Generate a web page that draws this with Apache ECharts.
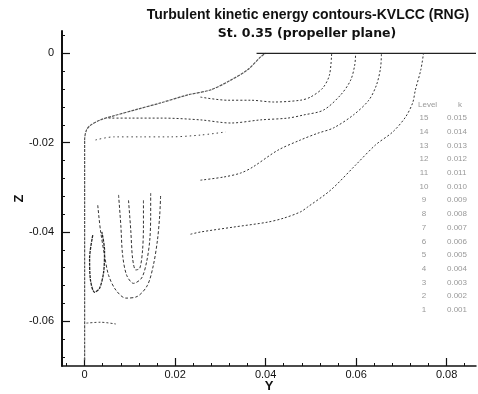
<!DOCTYPE html>
<html>
<head>
<meta charset="utf-8">
<script src="https://cdn.jsdelivr.net/npm/echarts@6/dist/echarts.min.js"></script>
<style>html,body{margin:0;padding:0;background:#fff}#c{width:478px;height:394px}</style>
</head>
<body>
<div id="c"></div>
<script>
// ---- data (Y, Z) ----
var titleText = 'Turbulent kinetic energy contours-KVLCC (RNG)';
var subtitleText = 'St. 0.35 (propeller plane)';
var xTickValues = [0, 0.02, 0.04, 0.06, 0.08];
var xTickLabels = ['0', '0.02', '0.04', '0.06', '0.08'];
var xMinorTicks = [-0.004, 0.004, 0.008, 0.012, 0.016, 0.024, 0.028, 0.032, 0.036, 0.044, 0.048, 0.052, 0.056, 0.064, 0.068, 0.072, 0.076, 0.084];
var yTickValues = [0, -0.02, -0.04, -0.06];
var yTickLabels = ['0', '-0.02', '-0.04', '-0.06'];
var yMinorTicks = [0.004, -0.004, -0.008, -0.012, -0.016, -0.024, -0.028, -0.032, -0.036, -0.044, -0.048, -0.052, -0.056, -0.064, -0.068];
var legendHeader = ['Level', 'k'];
var legendLevels = ['15', '14', '13', '12', '11', '10', '9', '8', '7', '6', '5', '4', '3', '2', '1'];
var legendValues = ['0.015', '0.014', '0.013', '0.012', '0.011', '0.010', '0.009', '0.008', '0.007', '0.006', '0.005', '0.004', '0.003', '0.002', '0.001'];

var hullLine = [[0,-0.0687],[0,-0.0194],[0.0004,-0.0172],[0.0013,-0.0161],[0.0035,-0.0149],[0.0064,-0.0140],[0.0117,-0.0125],[0.0168,-0.0111],[0.0228,-0.0093],[0.0278,-0.0082],[0.0323,-0.0060],[0.0360,-0.0037],[0.0389,-0.0008],[0.0400,0]];
var surfaceLine = [[0.0380,0],[0.0865,0]];
var contour1 = [[0.0256,-0.0098],[0.0316,-0.0105],[0.0367,-0.0105],[0.0418,-0.0109],[0.0477,-0.0105],[0.0499,-0.0098],[0.0526,-0.0078],[0.0541,-0.0049],[0.0546,0]];
var contour2 = [[0.0053,-0.0145],[0.0102,-0.0145],[0.0172,-0.0145],[0.0256,-0.0149],[0.0323,-0.0156],[0.0389,-0.0149],[0.0449,-0.0145],[0.0484,-0.0138],[0.0528,-0.0127],[0.0566,-0.0093],[0.0588,-0.0060],[0.0597,-0.0026],[0.0599,0]];
var contour3 = [[0.0024,-0.0194],[0.0064,-0.0187],[0.0124,-0.0187],[0.0190,-0.0187],[0.0256,-0.0183],[0.0312,-0.0176]];
var contour4 = [[0.0256,-0.0284],[0.0307,-0.0277],[0.0345,-0.0268],[0.0371,-0.0255],[0.0427,-0.0217],[0.0477,-0.0194],[0.0515,-0.0179],[0.0550,-0.0167],[0.0594,-0.0138],[0.0628,-0.0105],[0.0645,-0.0071],[0.0654,-0.0033],[0.0656,0]];
var contour5 = [[0.0234,-0.0405],[0.0256,-0.0400],[0.0329,-0.0389],[0.0404,-0.0378],[0.0440,-0.0369],[0.0477,-0.0355],[0.0493,-0.0344],[0.0544,-0.0306],[0.0599,-0.0250],[0.0643,-0.0205],[0.0681,-0.0176],[0.0709,-0.0143],[0.0725,-0.0111],[0.0731,-0.0082],[0.0743,-0.0037],[0.0749,0]];
var wake1 = [[0.0029,-0.0340],[0.0035,-0.0396],[0.0044,-0.0452],[0.0053,-0.0497],[0.0069,-0.0530],[0.0091,-0.0548],[0.0117,-0.0544],[0.0139,-0.0519],[0.0152,-0.0474],[0.0161,-0.0418],[0.0166,-0.0362],[0.0168,-0.0317]];
var wake2 = [[0.0075,-0.0317],[0.0080,-0.0385],[0.0084,-0.0452],[0.0093,-0.0497],[0.0108,-0.0515],[0.0126,-0.0503],[0.0137,-0.0467],[0.0144,-0.0418],[0.0146,-0.0362],[0.0146,-0.0313]];
var wake3 = [[0.0097,-0.0329],[0.0102,-0.0396],[0.0106,-0.0459],[0.0113,-0.0485],[0.0122,-0.0481],[0.0128,-0.0441],[0.0130,-0.0385],[0.0130,-0.0329]];
var wake4 = [[0.0018,-0.0407],[0.0011,-0.0459],[0.0013,-0.0508],[0.0022,-0.0535],[0.0033,-0.0526],[0.0042,-0.0490],[0.0044,-0.0441],[0.0038,-0.0400]];
var bottomSeg = [[0.0004,-0.0604],[0.0035,-0.0602],[0.0069,-0.0606]];

// ---- chart ----
var chart = echarts.init(document.getElementById('c'), null, {renderer: 'canvas'});
var FONT = 'Liberation Sans, Arial, sans-serif';

function contourSeries(name, data, color, width, dash) {
  return {
    name: name, type: 'line', data: data, xAxisIndex: 0, yAxisIndex: 0,
    showSymbol: false, symbol: 'none', silent: true, smooth: 0.3,
    lineStyle: {color: color, width: width, type: dash}
  };
}

var graphics = [
  {type: 'text', x: 308, y: 15, style: {text: titleText, font: 'bold 14px ' + FONT, fill: '#111', align: 'center', verticalAlign: 'middle'}},
  {type: 'text', x: 307, y: 34, style: {text: subtitleText, font: 'bold 12.5px "DejaVu Sans", sans-serif', fill: '#111', align: 'center', verticalAlign: 'middle'}},
  {type: 'text', x: 418, y: 105, style: {text: legendHeader[0], font: '8px ' + FONT, fill: '#999', align: 'left', verticalAlign: 'middle'}},
  {type: 'text', x: 458, y: 105, style: {text: legendHeader[1], font: '8px ' + FONT, fill: '#999', align: 'left', verticalAlign: 'middle'}}
];
for (var i = 0; i < legendLevels.length; i++) {
  var yy = 118 + i * 13.7;
  graphics.push({type: 'text', x: 424, y: yy, style: {text: legendLevels[i], font: '8px ' + FONT, fill: '#999', align: 'center', verticalAlign: 'middle'}});
  graphics.push({type: 'text', x: 447, y: yy, style: {text: legendValues[i], font: '8px ' + FONT, fill: '#999', align: 'left', verticalAlign: 'middle'}});
}

var option = {
  backgroundColor: '#fff',
  animation: false,
  grid: {left: 62, right: 2, top: 31, bottom: 28, containLabel: false, outerBoundsMode: 'none'},
  xAxis: [{
    type: 'value', min: -0.005, max: 0.0865,
    name: 'Y', nameLocation: 'middle', nameGap: 14, nameMoveOverlap: false,
    nameTextStyle: {fontFamily: FONT, fontWeight: 'bold', fontSize: 13, color: '#111'},
    axisLine: {show: true, onZero: false, lineStyle: {color: '#111', width: 1.5}},
    axisTick: {show: true, inside: true, length: 8, customValues: xTickValues, lineStyle: {color: '#111', width: 1.2}},
    axisLabel: {show: true, customValues: xTickValues, margin: 3, fontFamily: FONT, fontSize: 11, color: '#111',
      formatter: function (v) { var k = xTickValues.indexOf(v); return k >= 0 ? xTickLabels[k] : ''; }},
    splitLine: {show: false}
  }, {
    type: 'value', min: -0.005, max: 0.0865, position: 'bottom', gridIndex: 0,
    axisLine: {show: false, onZero: false},
    axisTick: {show: true, inside: true, length: 3, customValues: xMinorTicks, lineStyle: {color: '#111', width: 1}},
    axisLabel: {show: false}, splitLine: {show: false}
  }],
  yAxis: [{
    type: 'value', min: -0.07, max: 0.005,
    name: 'Z', nameLocation: 'middle', nameGap: 36, nameRotate: 90, nameMoveOverlap: false,
    nameTextStyle: {fontFamily: FONT, fontWeight: 'bold', fontSize: 13, color: '#111'},
    axisLine: {show: true, onZero: false, lineStyle: {color: '#111', width: 2}},
    axisTick: {show: true, inside: true, length: 8, customValues: yTickValues, lineStyle: {color: '#111', width: 1.2}},
    axisLabel: {show: true, customValues: yTickValues, margin: 8, fontFamily: FONT, fontSize: 11, color: '#111',
      formatter: function (v) { var k = yTickValues.indexOf(v); return k >= 0 ? yTickLabels[k] : ''; }},
    splitLine: {show: false}
  }, {
    type: 'value', min: -0.07, max: 0.005, position: 'left', gridIndex: 0,
    axisLine: {show: false, onZero: false},
    axisTick: {show: true, inside: true, length: 3, customValues: yMinorTicks, lineStyle: {color: '#111', width: 1}},
    axisLabel: {show: false}, splitLine: {show: false}
  }],
  series: [
    contourSeries('hull', hullLine, '#555', 1.2, [3, 1]),
    contourSeries('surface', surfaceLine, '#222', 1.3, 'solid'),
    contourSeries('c1', contour1, '#333', 1, [2, 2]),
    contourSeries('c2', contour2, '#333', 1, [2, 2]),
    contourSeries('c3', contour3, '#444', 1, [1.5, 3]),
    contourSeries('c4', contour4, '#333', 1, [2, 2]),
    contourSeries('c5', contour5, '#333', 1, [2, 2]),
    contourSeries('w1', wake1, '#333', 1, [3, 2]),
    contourSeries('w2', wake2, '#333', 1, [3, 2]),
    contourSeries('w3', wake3, '#333', 1, [3, 2]),
    contourSeries('w4', wake4, '#222', 1.3, [3, 1]),
    contourSeries('b', bottomSeg, '#444', 1, [2, 2])
  ],
  graphic: graphics
};
chart.setOption(option);
</script>
</body>
</html>
